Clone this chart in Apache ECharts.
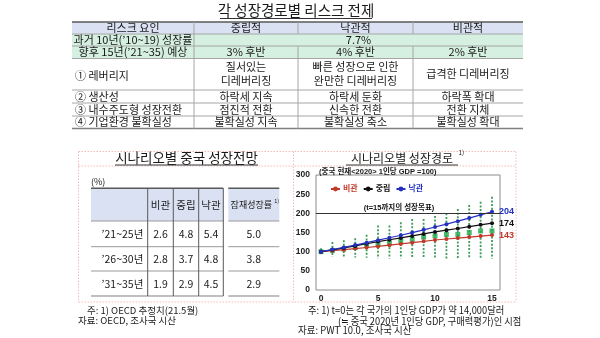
<!DOCTYPE html>
<html>
<head>
<meta charset="utf-8">
<script src="https://cdn.jsdelivr.net/npm/echarts@6/dist/echarts.min.js"></script>
<style>
  html, body { margin: 0; padding: 0; background: #fff; }
  #chart { width: 600px; height: 338px; }
</style>
</head>
<body>
<div id="chart"></div>
<script>
// 각 성장경로별 리스크 전제 (top table)
const riskHeader = ['리스크 요인', '중립적', '낙관적', '비관적']
const riskPast = ['과거 10년(’10~19) 성장률', '7.7%']
const riskOutlook = ['향후 15년(’21~35) 예상', '3% 후반', '4% 후반', '2% 후반']
const riskFactors = [
  ['① 레버리지', '질서있는\n디레버리징', '빠른 성장으로 인한\n완만한 디레버리징', '급격한 디레버리징'],
  ['② 생산성', '하락세 지속', '하락세 둔화', '하락폭 확대'],
  ['③ 내수주도형 성장전환', '점진적 전환', '신속한 전환', '전환 지체'],
  ['④ 기업환경 불확실성', '불확실성 지속', '불확실성 축소', '불확실성 확대']
]

// 시나리오별 중국 성장전망 (%)
const periods = ['’21~25년', '’26~30년', '’31~35년']
const scenarioNames = ['비관', '중립', '낙관']
const growthPessimistic = [2.6, 2.8, 1.9]
const growthNeutral = [4.8, 3.7, 2.9]
const growthOptimistic = [5.4, 4.8, 4.5]
const growthPotential = [5.0, 3.8, 2.9]

// 시나리오별 성장경로 (중국 2020년 1인당 GDP = 100)
const years = [0, 1, 2, 3, 4, 5, 6, 7, 8, 9, 10, 11, 12, 13, 14, 15]
const pathPessimistic = [100, 102.6, 105.3, 108.0, 110.8, 113.7, 116.9, 120.1, 123.5, 126.9, 130.5, 133.0, 135.5, 138.1, 140.7, 143.4]
const pathNeutral = [100, 104.8, 109.8, 115.1, 120.6, 126.4, 131.1, 135.9, 141.0, 146.2, 151.6, 156.0, 160.5, 165.2, 170.0, 174.4]
const pathOptimistic = [100, 105.4, 111.1, 117.1, 123.4, 130.1, 136.3, 142.9, 149.7, 156.9, 164.4, 171.8, 179.6, 187.6, 196.1, 204.2]
const countryMedian = [100, 103, 107, 111, 116, 120, 123, 128, 132, 138, 141, 145, 145, 150, 154, 154]
const countryLow = [96, 87, 86, 85, 84, 83, 82, 82, 82, 82, 82, 82, 82, 82, 82, 82]
const countryHigh = [109, 125, 130, 135, 144, 168, 168, 177, 185, 185, 193, 200, 211, 222, 230, 243]
const endValues = { '비관': 143, '중립': 174, '낙관': 204 }
const targetLevel = 200
const xTicks = [0, 5, 10, 15]

const FONT_KR = '"Noto Sans CJK KR", sans-serif'
const FONT_NUM = '"Liberation Sans", "Noto Sans CJK KR", sans-serif'
const RED = '#c0392b'
const BLACK = '#111111'
const BLUE = '#2330c0'
const GREEN = '#3c9c5a'

const g = []

function txt(x, y, s, size, o = {}) {
  const align = o.align || 'center'
  const el = {
    type: 'text', x, y, silent: true,
    style: {
      text: s,
      fill: o.color || '#1a1a1a',
      font: `${o.weight || 'normal'} ${size}px ${o.family || FONT_KR}`,
      align,
      verticalAlign: 'middle',
      textAlign: align,
      textVerticalAlign: 'middle',
      lineHeight: o.lh || size + 3
    }
  }
  if (o.scaleX) el.scaleX = o.scaleX
  g.push(el)
}

function line(x1, y1, x2, y2, color, w, dash) {
  g.push({
    type: 'line', silent: true,
    shape: { x1, y1, x2, y2 },
    style: { stroke: color, lineWidth: w, lineDash: dash || null }
  })
}

function box(x, y, w, h, fill) {
  g.push({ type: 'rect', silent: true, shape: { x, y, width: w, height: h }, style: { fill } })
}

// ---- panel frame (pink dotted)
const pink = '#f1bcbc'
const dot = [1.5, 1.5]
line(78.5, 151.5, 516, 151.5, pink, 1, dot)
line(78.5, 166, 516, 166, pink, 1, dot)
line(78.5, 302, 516, 302, pink, 1, dot)
line(78.5, 151.5, 78.5, 302, pink, 1, dot)
line(293.5, 151.5, 293.5, 302, pink, 1, dot)
line(516, 151.5, 516, 302, pink, 1, dot)

// ---- top table
const colX = [72, 194, 298, 413, 523]
const rowY = [22, 34, 46, 58.5, 90, 103, 116, 128.5]
const lavender = '#d9e1f2'
const mint = '#d5efe0'
const grid = '#a6a6a6'

txt(296, 10.5, '각 성장경로별 리스크 전제', 14.5)
line(220, 18.5, 372, 18.5, '#333', 1)

box(colX[0], rowY[0], colX[4] - colX[0], rowY[1] - rowY[0], lavender)
box(colX[0], rowY[1], colX[4] - colX[0], rowY[3] - rowY[1], mint)

for (let i = 1; i < rowY.length - 1; i++) line(colX[0], rowY[i], colX[4], rowY[i], grid, 1)
line(colX[0], rowY[0], colX[4], rowY[0], '#595959', 1.5)
line(colX[0], rowY[7], colX[4], rowY[7], '#808080', 1.5)
line(colX[1], rowY[0], colX[1], rowY[7], grid, 1)
for (const c of [2, 3]) {
  line(colX[c], rowY[0], colX[c], rowY[1], grid, 1)
  line(colX[c], rowY[2], colX[c], rowY[7], grid, 1)
}

const colMid = i => (colX[i] + colX[i + 1]) / 2
const rowMid = i => (rowY[i] + rowY[i + 1]) / 2

riskHeader.forEach((s, i) => txt(colMid(i), rowMid(0), s, 11))
txt(colMid(0), rowMid(1), riskPast[0], 11)
txt((colX[1] + colX[4]) / 2, rowMid(1), riskPast[1], 11)
riskOutlook.forEach((s, i) => txt(colMid(i), rowMid(2), s, 11))
riskFactors.forEach((row, r) => {
  row.forEach((s, i) => {
    if (i === 0) txt(colX[0] + 3, rowMid(r + 3) + (r === 0 ? 2 : 0), s, 11, { align: 'left' })
    else txt(colMid(i), rowMid(r + 3), s, 11, { lh: 14 })
  })
})

// ---- left table: 시나리오별 중국 성장전망
txt(186.5, 158.3, '시나리오별 중국 성장전망', 13.5)
line(115, 165, 258, 165, '#333', 1)
txt(91, 181.5, '(%)', 9, { align: 'left' })

const tCols = [91, 147.7, 173.3, 198.7, 223.3]
const tPot = [228.3, 279.3]
const tRows = [188.3, 221, 246.7, 271, 296]
const tTextY = [234, 259, 284]

box(tCols[0], tRows[0], tCols[4] - tCols[0], tRows[1] - tRows[0], lavender)
box(tPot[0], tRows[0], tPot[1] - tPot[0], tRows[1] - tRows[0], lavender)
for (const [a, b] of [[tCols[0], tCols[4]], [tPot[0], tPot[1]]]) {
  line(a, tRows[0], b, tRows[0], '#595959', 1.5)
  for (let i = 1; i < 4; i++) line(a, tRows[i], b, tRows[i], '#9a9a9a', 1)
  line(a, tRows[4], b, tRows[4], '#808080', 1.2)
}
for (let i = 1; i < tCols.length; i++) line(tCols[i], tRows[0], tCols[i], tRows[4], '#595959', 1)

const tMid = i => (tCols[i] + tCols[i + 1]) / 2
const potMid = (tPot[0] + tPot[1]) / 2
scenarioNames.forEach((s, i) => txt(tMid(i + 1), 205, s, 10.5))
txt(potMid - 2.5, 205, '잠재성장률', 9)
txt(274.3, 201, '1)', 5.5, { align: 'left' })

const tableSeries = [growthPessimistic, growthNeutral, growthOptimistic]
periods.forEach((p, r) => {
  txt(143.3, tTextY[r], p, 10.5, { align: 'right' })
  tableSeries.forEach((vals, c) => txt(tMid(c + 1), tTextY[r], vals[r].toFixed(1), 10.5))
  txt(potMid, tTextY[r], growthPotential[r].toFixed(1), 10.5)
})

txt(87, 310.7, '주: 1) OECD 추정치(21.5월)', 9.5, { align: 'left' })
txt(78, 320.7, '자료: OECD, 조사국 시산', 9.5, { align: 'left' })

// ---- right panel texts
txt(402, 158.3, '시나리오별 성장경로', 12)
txt(458.5, 152.5, '1)', 6.5, { align: 'left' })
line(346, 165, 458, 165, '#333', 1)
txt(319, 171.7, '(중국 현재<2020> 1인당 GDP =100)', 7.5, { align: 'left', weight: 'bold', family: FONT_NUM })

txt(308, 310.7, '주: 1) t=0는 각 국가의 1인당 GDP가 약 14,000달러', 10, { align: 'left', scaleX: 0.93 })
txt(338, 321, '(≒ 중국 2020년 1인당 GDP, 구매력평가)인 시점', 10, { align: 'left', scaleX: 0.93 })
txt(298, 330.7, '자료: PWT 10.0, 조사국 시산', 10, { align: 'left', scaleX: 0.95 })

// ---- chart series
function pathSeries(name, values, color) {
  return {
    name,
    type: 'line',
    data: years.map((t, i) => [t, values[i]]),
    symbol: 'circle',
    symbolSize: 4,
    lineStyle: { color, width: 1.2 },
    itemStyle: { color },
    z: 4,
    endLabel: {
      show: true,
      formatter: String(endValues[name]),
      color,
      fontWeight: 'bold',
      fontSize: 9,
      fontFamily: FONT_NUM,
      distance: 7
    }
  }
}

const neutralSeries = pathSeries('중립', pathNeutral, BLACK)
neutralSeries.markLine = {
  silent: true,
  symbol: ['none', 'none'],
  lineStyle: { color: '#333', width: 1, type: 'solid' },
  label: {
    show: true,
    position: 'insideMiddleTop',
    formatter: '(t=15까지의 성장목표)',
    fontSize: 7.5,
    fontWeight: 'bold',
    color: '#111',
    fontFamily: FONT_NUM,
    distance: 2,
    padding: [0, 18, 0, 0]
  },
  data: [{ yAxis: targetLevel }]
}

const chart = echarts.init(document.getElementById('chart'))
chart.setOption({
  animation: false,
  backgroundColor: '#ffffff',
  textStyle: { fontFamily: FONT_NUM },
  legend: {
    left: 325,
    top: 180,
    itemWidth: 9,
    itemHeight: 6,
    itemGap: 5,
    textStyle: { fontSize: 8, fontWeight: 'bold', padding: [0, 0, 0, -2] },
    data: [
      { name: '비관', textStyle: { color: RED } },
      { name: '중립', textStyle: { color: BLACK } },
      { name: '낙관', textStyle: { color: BLUE } }
    ]
  },
  grid: {
    left: 316, top: 175, width: 184, height: 115,
    show: true, borderColor: '#8c8c8c', borderWidth: 1
  },
  xAxis: {
    type: 'value',
    min: -0.44,
    max: 15.7,
    axisLine: { show: false },
    axisTick: { show: false },
    splitLine: { show: false },
    axisLabel: {
      customValues: xTicks,
      fontSize: 8.5, fontWeight: 'bold', color: '#222', margin: 4
    }
  },
  yAxis: {
    type: 'value',
    min: 0,
    max: 300,
    interval: 50,
    axisLine: { show: false },
    axisTick: { show: false },
    splitLine: { show: false },
    axisLabel: { fontSize: 8.5, fontWeight: 'bold', color: '#222', margin: 6 }
  },
  series: [
    {
      name: '범위',
      type: 'custom',
      silent: true,
      z: 1,
      data: years.map((t, i) => [t, countryLow[i], countryHigh[i]]),
      encode: { x: 0, y: [1, 2] },
      renderItem: (params, api) => {
        const top = api.coord([api.value(0), api.value(2)])
        const bottom = api.coord([api.value(0), api.value(1)])
        return {
          type: 'line',
          shape: { x1: top[0], y1: top[1], x2: bottom[0], y2: bottom[1] },
          style: { stroke: GREEN, lineWidth: 1.8, lineDash: [2, 1.6] }
        }
      }
    },
    {
      name: '중간값',
      type: 'scatter',
      silent: true,
      z: 2,
      symbol: 'rect',
      symbolSize: 5,
      itemStyle: { color: '#1fa84a' },
      data: years.map((t, i) => [t, countryMedian[i]])
    },
    pathSeries('비관', pathPessimistic, RED),
    neutralSeries,
    pathSeries('낙관', pathOptimistic, BLUE)
  ],
  graphic: g
})
</script>
</body>
</html>
